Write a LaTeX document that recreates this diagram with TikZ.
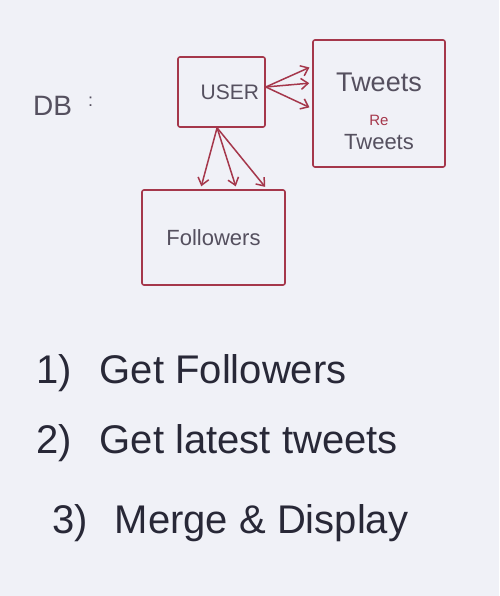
\documentclass[tikz,border=0pt]{standalone}
\usepackage{fontspec}
\setmainfont{Liberation Sans}
\usetikzlibrary{arrows.meta,calc}
\definecolor{board}{RGB}{240,241,247}
\definecolor{marker}{RGB}{165,55,75}
\definecolor{ink}{RGB}{85,80,95}
\definecolor{listink}{RGB}{40,40,55}
\begin{document}
\begin{tikzpicture}[x=1pt, y=-1pt, >={Straight Barb[length=7pt,width=11pt]},
  box/.style={draw=marker, line width=1.6pt, rounded corners=2pt, text=ink, inner sep=6pt},
  link/.style={->, draw=marker, line width=1.5pt, shorten >=3pt},
  item/.style={anchor=base west, text=listink, inner sep=0pt, font=\fontsize{40}{42}\selectfont}]
  \fill[board] (0,0) rectangle (499,596);
  \useasboundingbox (0,0) rectangle (499,596);
  \node[text=ink, anchor=base west, inner sep=0pt, font=\fontsize{28}{30}\selectfont] (db) at (33,116) {DB\hspace{16pt}\raisebox{9pt}{\fontsize{18}{18}\selectfont :}};
  \node[box, minimum width=87, minimum height=70, text width=75, align=right, font=\fontsize{21}{22}\selectfont] (user) at (221.5,92) {USER};
  \node[box, minimum width=132, minimum height=127, text width=118, align=center] (tweets) at (379,103.5) {\rule{0pt}{34pt}{\fontsize{27}{30}\selectfont Tweets}\\[22pt]{\color{marker}\fontsize{15}{12}\selectfont Re}\\[7pt]{\fontsize{22}{20}\selectfont Tweets}};
  \node[box, minimum width=143, minimum height=95, font=\fontsize{22}{24}\selectfont] (followers) at (213.5,237.5) {Followers};
  \coordinate (us) at ($(user.north east)!0.43!(user.south east)$);
  \coordinate (ud) at ($(user.south west)!0.45!(user.south east)$);
  \draw[link] (us) -- ($(tweets.north west)!0.21!(tweets.south west)$);
  \draw[link] (us) -- ($(tweets.north west)!0.34!(tweets.south west)$);
  \draw[link] (us) -- ($(tweets.north west)!0.54!(tweets.south west)$);
  \draw[link] (ud) -- ($(followers.north west)!0.41!(followers.north east)$);
  \draw[link] (ud) -- ($(followers.north west)!0.66!(followers.north east)$);
  \draw[link] (ud) -- ($(followers.north west)!0.87!(followers.north east)$);
  \node[item] (step1) at (36,383) {1)\hspace{28pt}Get Followers};
  \node[item] (step2) at (36,453) {2)\hspace{28pt}Get latest tweets};
  \node[item] (step3) at (52,533) {3)\hspace{27pt}Merge \& Display};
\end{tikzpicture}
\end{document}
